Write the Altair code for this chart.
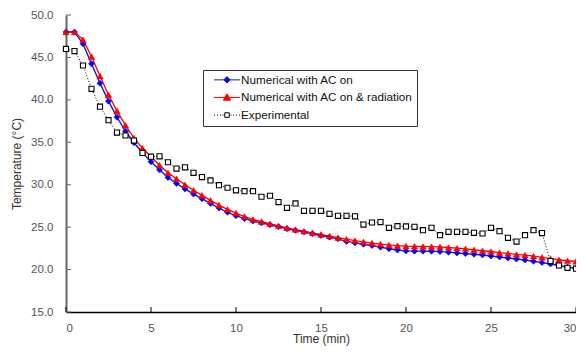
import altair as alt
import pandas as pd

S1 = "Numerical with AC on"
S2 = "Numerical with AC on & radiation"
S3 = "Experimental"
names = [S1, S2, S3]

time_min = [0.0, 0.5, 1.0, 1.5, 2.0, 2.5, 3.0, 3.5, 4.0, 4.5,
            5.0, 5.5, 6.0, 6.5, 7.0, 7.5, 8.0, 8.5, 9.0, 9.5,
            10.0, 10.5, 11.0, 11.5, 12.0, 12.5, 13.0, 13.5, 14.0, 14.5,
            15.0, 15.5, 16.0, 16.5, 17.0, 17.5, 18.0, 18.5, 19.0, 19.5,
            20.0, 20.5, 21.0, 21.5, 22.0, 22.5, 23.0, 23.5, 24.0, 24.5,
            25.0, 25.5, 26.0, 26.5, 27.0, 27.5, 28.0, 28.5, 29.0, 29.5, 30.0]

ac_on = [48.0, 48.0, 46.6, 44.25, 41.95, 39.85, 37.95, 36.3, 34.95, 33.75,
         32.7, 31.75, 30.85, 30.15, 29.5, 28.9, 28.35, 27.8, 27.25, 26.75,
         26.35, 26.0, 25.72, 25.5, 25.28, 25.05, 24.82, 24.62, 24.42, 24.22,
         24.02, 23.82, 23.62, 23.32, 23.14, 22.98, 22.84, 22.64, 22.45, 22.3,
         22.2, 22.17, 22.17, 22.16, 22.12, 22.05, 21.96, 21.88, 21.8, 21.72,
         21.6, 21.48, 21.36, 21.24, 21.12, 20.98, 20.82, 20.66, 20.48, 20.3, 20.15]

ac_on_rad = [48.0, 48.0, 47.1, 45.1, 42.8, 40.6, 38.7, 37.0, 35.5, 34.3,
             33.3, 32.3, 31.4, 30.7, 30.0, 29.35, 28.75, 28.15, 27.6, 27.1,
             26.65, 26.25, 25.9, 25.65, 25.4, 25.15, 24.92, 24.72, 24.52, 24.33,
             24.13, 23.95, 23.76, 23.58, 23.42, 23.27, 23.12, 23.0, 22.9, 22.82,
             22.76, 22.74, 22.72, 22.7, 22.67, 22.6, 22.52, 22.45, 22.33, 22.22,
             22.13, 22.0, 21.9, 21.78, 21.7, 21.58, 21.44, 21.3, 21.16, 21.04, 20.95]

experimental = [46.0, 45.75, 44.05, 41.3, 39.2, 37.6, 36.15, 35.8, 35.2, 33.75,
                33.3, 33.35, 32.65, 31.9, 32.05, 31.4, 30.9, 30.5, 29.95, 29.64,
                29.34, 29.24, 29.24, 28.58, 28.7, 27.95, 27.28, 27.79, 26.92, 26.92,
                26.92, 26.57, 26.33, 26.33, 26.27, 25.3, 25.55, 25.6, 24.92, 25.11,
                25.08, 25.04, 24.64, 24.92, 24.05, 24.45, 24.45, 24.45, 24.33, 24.25,
                24.92, 24.53, 23.74, 23.3, 24.05, 24.64, 24.3, 21.0, 20.48, 20.2, 20.1]

y_ticks = [15, 20, 25, 30, 35, 40, 45, 50]
x_ticks = [0, 5, 10, 15, 20, 25, 30]

rows = []
for s, vals in zip(names, [ac_on, ac_on_rad, experimental]):
    for t, v in zip(time_min, vals):
        rows.append({"time": t, "temp": v, "series": s})
df = pd.DataFrame(rows)

FONT = "Liberation Sans"
W, H = 510, 297

xs = alt.Scale(domain=[0, 30], nice=False, zero=False)
ys = alt.Scale(domain=[15, 50], nice=False, zero=False)

x_enc = alt.X("time:Q", scale=xs, axis=alt.Axis(
    values=x_ticks, format="d", title="Time (min)", grid=False, ticks=False, tickSize=0,
    domainColor="#000000", domainWidth=1.5, labelColor="#555555", labelFont=FONT,
    labelFontSize=11.5, labelPadding=10, titleFont=FONT, titleFontSize=12,
    titleFontWeight="normal", titleColor="#333333", titlePadding=0))
y_enc = alt.Y("temp:Q", scale=ys, axis=alt.Axis(
    values=y_ticks, format=".1f", title="Temperature (°C)", grid=False, ticks=False, tickSize=0,
    domainColor="#666666", domainWidth=2, labelColor="#555555", labelFont=FONT,
    labelFontSize=11.5, labelPadding=13, titleFont=FONT, titleFontSize=12,
    titleFontWeight="normal", titleColor="#333333", titlePadding=7))

base = alt.Chart(df)

line_blue = base.transform_filter(alt.datum.series == S1).mark_line(
    color="#1c1cc0", strokeWidth=1.4).encode(x=x_enc, y=y_enc)
line_red = base.transform_filter(alt.datum.series == S2).mark_line(
    color="#ff0000", strokeWidth=1.3).encode(x="time:Q", y="temp:Q")
line_exp = base.transform_filter(alt.datum.series == S3).mark_line(
    color="#000000", strokeWidth=1, strokeDash=[1, 2]).encode(x="time:Q", y="temp:Q")

pts_blue = base.transform_filter(alt.datum.series == S1).mark_point(
    shape="diamond", size=36, filled=True, fill="#0000ff", stroke="#0000ff", strokeWidth=0.6, opacity=1
).encode(x="time:Q", y="temp:Q")
pts_red = base.transform_filter(alt.datum.series == S2).mark_point(
    shape="triangle-up", size=42, filled=True, fill="#ff0000", stroke="#ff0000", strokeWidth=0.5, opacity=1
).encode(x="time:Q", y="temp:Q")
pts_exp = base.transform_filter(alt.datum.series == S3).mark_point(
    shape="square", size=26, filled=False, fill="#ffffff", stroke="#000000", strokeWidth=1.1, opacity=1
).encode(x="time:Q", y="temp:Q")

# legend symbols = line + marker (custom paths)
p_blue = "M-2.6,0H2.6M-0.65,0L0,-0.65L0.65,0L0,0.65Z"
p_red = "M-2.6,0H2.6M0,-0.75L0.72,0.55L-0.72,0.55Z"
p_exp = ("M-2.6,0H-2.4M-2.0,0H-1.8M-1.4,0H-1.2M-0.9,0H-0.7"
         "M-0.45,-0.45H0.45V0.45H-0.45Z"
         "M0.7,0H0.9M1.2,0H1.4M1.8,0H2.0M2.4,0H2.6")

leg = alt.Legend(
    orient="none", legendX=137, legendY=55, title=None, padding=4,
    symbolOffset=14.15, labelOffset=8.15, rowPadding=4.6,
    strokeColor="#333333", symbolSize=100, symbolStrokeWidth=1, symbolOpacity=1,
    labelFont=FONT, labelFontSize=11.7, labelColor="#111111",
    labelExpr="datum.label + '\u00a0\u00a0\u00a0\u00a0\u00a0'", labelLimit=400,
)
legend_layer = base.transform_filter(alt.datum.time == 0).mark_point(
    size=100, opacity=0, strokeWidth=1
).encode(
    x="time:Q", y="temp:Q",
    shape=alt.Shape("series:N", scale=alt.Scale(domain=names, range=[p_blue, p_red, p_exp]), legend=leg),
    fill=alt.Fill("series:N", scale=alt.Scale(domain=names, range=["#0000ff", "#ff0000", "#ffffff"]), legend=leg),
    stroke=alt.Stroke("series:N", scale=alt.Scale(domain=names, range=["#1c1cc0", "#ff0000", "#000000"]), legend=leg),
)

# inward tick marks
yt = alt.Chart(pd.DataFrame({"v": y_ticks})).mark_rule(color="#666666", strokeWidth=1).encode(
    y=alt.Y("v:Q", scale=ys), x=alt.value(0), x2=alt.value(5))
xt = alt.Chart(pd.DataFrame({"v": x_ticks})).mark_rule(color="#000000", strokeWidth=1).encode(
    x=alt.X("v:Q", scale=xs), y=alt.value(H), y2=alt.value(H - 5))

chart = alt.layer(line_blue, line_red, line_exp, pts_blue, pts_red, pts_exp, yt, xt, legend_layer).properties(
    width=W, height=H,
    autosize=alt.AutoSizeParams(type="none"),
    padding={"left": 58, "top": 7, "right": 0, "bottom": 34},
    background="white",
).configure_view(stroke=None)

chart.save("out.html", embed_options={"renderer": "svg", "actions": False})
